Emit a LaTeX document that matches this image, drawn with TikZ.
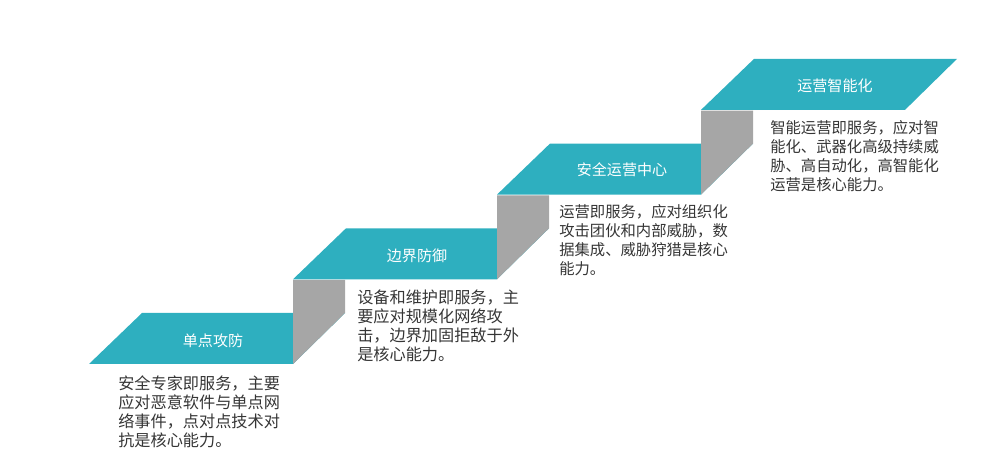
\documentclass[tikz,border=0pt]{standalone}
\usepackage{fontspec}
\usepackage{tikz}
\newfontfamily\cjk{Noto Sans CJK SC}
\definecolor{stepteal}{HTML}{2EAFBF}
\definecolor{risergray}{HTML}{A6A6A6}
\definecolor{desctext}{HTML}{353535}

\tikzset{
  steptitle/.style={text=white, inner sep=0pt, font=\cjk\fontsize{10.7}{13}\selectfont},
  stepdesc/.style={text=desctext, anchor=north west, inner sep=0pt, align=left,
    font=\cjk\fontsize{11.5}{13.5}\selectfont},
  narrowdesc/.style={stepdesc, font=\cjk\fontsize{10.9}{13.4}\selectfont}
}

\begin{document}
\begin{tikzpicture}[x=0.025cm, y=-0.025cm]
    \useasboundingbox (0,0) rectangle (1000,457);
    \def \dx {204}
    \def \dy {-84.7} % rise of one step
    \foreach \s in {0,...,3}
    {
      \fill[stepteal] ({89+\dx*\s},{364+\dy*\s}) -- ++(53,-51) -- ++(203,0)
        -- ++(-52,51) -- cycle;
    }
    \foreach \s in {0,...,2}
    {
      \fill[risergray] ({293+\dx*\s},{280+\dy*\s}) -- ++(52,0) -- ++(0,33)
        -- ++(-52,51) -- cycle;
    }
    \node[steptitle] (t1) at (213,341) {单点攻防};
    \node[steptitle] (t2) at (417,256) {边界防御};
    \node[steptitle] (t3) at (622,170) {安全运营中心};
    \node[steptitle] (t4) at (835,86) {运营智能化};
    \node[stepdesc] (d1) at (118,375.5) {安全专家即服务，主要\\应对恶意软件与单点网\\络事件，点对点技术对\\抗是核心能力。};
    \node[stepdesc] (d2) at (357,289.5) {设备和维护即服务，主\\要应对规模化网络攻\\击，边界加固拒敌于外\\是核心能力。};
    \node[narrowdesc] (d3) at (559,204.5) {运营即服务，应对组织化\\攻击团伙和内部威胁，数\\据集成、威胁狩猎是核心\\能力。};
    \node[narrowdesc] (d4) at (770,120.5) {智能运营即服务，应对智\\能化、武器化高级持续威\\胁、高自动化，高智能化\\运营是核心能力。};
\end{tikzpicture}
\end{document}
